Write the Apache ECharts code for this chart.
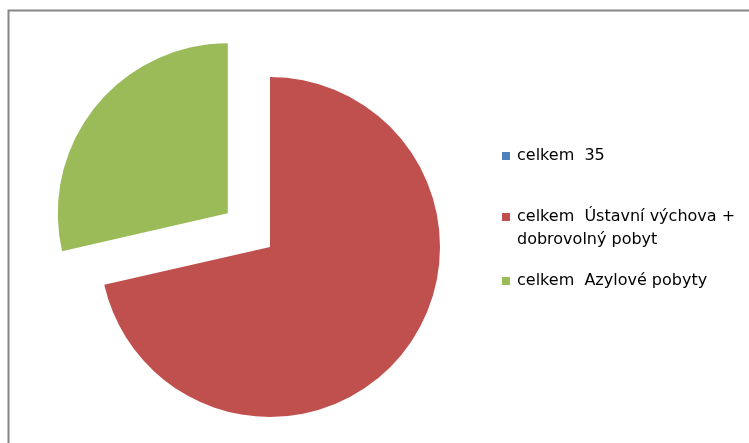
<!DOCTYPE html>
<html>
<head>
<meta charset="utf-8">
<script src="https://cdn.jsdelivr.net/npm/echarts@6/dist/echarts.min.js"></script>
<style>html,body{margin:0;padding:0;background:#fff;}#c{width:749px;height:443px;}</style>
</head>
<body>
<div id="c"></div>
<script>
var categories = ['celkem  35', 'celkem  Ústavní výchova +\ndobrovolný pobyt', 'celkem  Azylové pobyty'];
var values = [0, 25, 10];
var colors = ['#4F81BD', '#C0504D', '#9BBB59'];
var explodedIndex = 2;

var chart = echarts.init(document.getElementById('c'), null, {renderer: 'canvas'});
var legendTops = [144.5, 182.5, 269.5];
var legends = categories.map(function (name, i) {
  return {
    data: [name],
    left: 502,
    top: legendTops[i],
    padding: 0,
    orient: 'vertical',
    itemWidth: 8,
    itemHeight: 8,
    itemGap: 0,
    icon: 'rect',
    selectedMode: false,
    formatter: function (n) {
      // keep the first line of a wrapped name level with its marker
      return n.indexOf('\n') >= 0 ? '\n' + n : n;
    },
    textStyle: {
      fontFamily: 'DejaVu Sans',
      fontSize: 16,
      color: '#000',
      lineHeight: 23,
      padding: [0, 0, 0, 2]
    }
  };
});
chart.setOption({
  animation: false,
  backgroundColor: '#fff',
  color: colors,
  legend: legends,
  graphic: [
    {type: 'polyline', shape: {points: [[8.5, 443], [8.5, 10.5], [749, 10.5]]}, style: {stroke: '#868686', lineWidth: 2, fill: null}, silent: true}
  ],
  series: [{
    type: 'pie',
    center: [270, 247],
    radius: 170,
    startAngle: 90,
    clockwise: true,
    selectedMode: 'single',
    selectedOffset: 54,
    label: {show: false},
    labelLine: {show: false},
    emphasis: {disabled: true},
    itemStyle: {borderWidth: 0},
    data: categories.map(function (n, i) {
      return {name: n, value: values[i], selected: i === explodedIndex};
    })
  }]
});
</script>
</body>
</html>
